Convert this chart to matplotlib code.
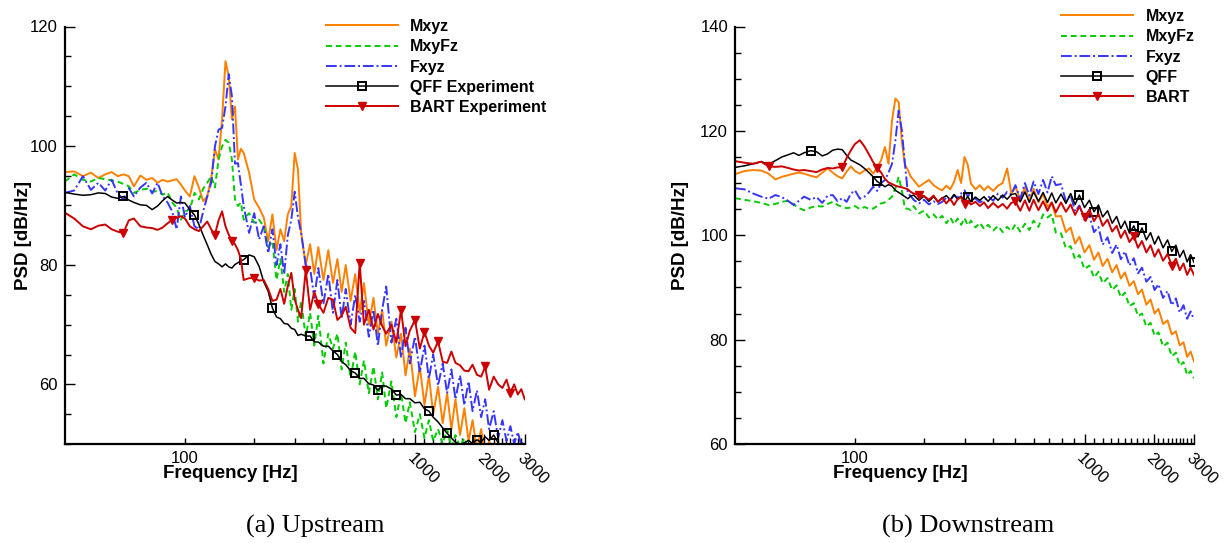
import numpy as np
import matplotlib.pyplot as plt
from matplotlib.ticker import MultipleLocator

plt.rcParams['font.family'] = 'Liberation Sans'

# frequency bins [Hz], shared by both panels
freq = [30, 33, 36, 39, 42, 45, 48, 51, 54, 57,
        60, 64, 68, 72, 76, 80, 84, 88, 92, 96,
        100, 105, 110, 115, 120, 125, 130, 135, 140, 145,
        150, 155, 160, 165, 170, 175, 180, 190, 200, 210,
        220, 230, 240, 250, 260, 270, 280, 290, 300, 310,
        320, 335, 350, 365, 380, 400, 420, 440, 460, 480,
        500, 525, 550, 575, 600, 630, 660, 690, 720, 750,
        790, 830, 870, 910, 950, 1000, 1050, 1100, 1150, 1200,
        1260, 1320, 1380, 1440, 1500, 1570, 1640, 1710, 1780, 1860,
        1940, 2020, 2100, 2200, 2300, 2400, 2500, 2600, 2700, 2800,
        2900, 3000]

# (a) upstream PSD [dB/Hz]
up_mxyz = [95.6, 95.7, 94.9, 95.5, 94.6, 95.2, 95.6, 94.9, 95.2, 94.9,
           93.2, 95.0, 94.3, 94.6, 93.8, 94.3, 94.0, 94.2, 94.4, 93.5,
           92.5, 91.5, 94.9, 93.0, 90.7, 91.5, 94.5, 99.4, 97.7, 104.4,
           114.2, 111.7, 104.4, 106.6, 97.7, 99.5, 98.8, 95.5, 91.0, 89.6,
           88.0, 84.0, 88.5, 82.5, 86.0, 84.0, 88.5, 89.9, 98.8, 96.0,
           85.4, 80.0, 83.5, 78.5, 83.0, 77.5, 82.5, 77.0, 81.0, 75.5,
           80.0, 74.0, 78.5, 72.0, 77.0, 70.0, 74.5, 68.5, 72.5, 66.5,
           70.5, 64.5, 68.5, 61.5, 66.0, 58.0, 63.0, 56.5, 61.5, 55.0,
           59.6, 53.5, 58.5, 52.5, 57.5, 51.5, 56.0, 50.5, 54.0, 49.0,
           52.5, 48.0, 50.5, 47.0, 47.0, 46.0, 46.0, 45.0, 45.0, 44.0,
           44.0, 44.0]
up_mxyfz = [94.0, 95.2, 94.3, 94.0, 94.6, 94.4, 94.2, 94.0, 93.6, 93.2,
            92.1, 92.6, 92.8, 92.3, 92.4, 91.8, 92.2, 90.5, 89.6, 87.6,
            89.0, 89.3, 92.1, 91.0, 92.8, 93.8, 94.9, 93.0, 97.7, 99.9,
            101.0, 100.5, 97.7, 91.0, 89.9, 90.5, 87.6, 88.7, 87.1, 87.6,
            86.5, 83.0, 84.0, 77.5, 81.0, 75.5, 78.5, 72.5, 76.0, 70.5,
            74.0, 68.0, 72.0, 66.5, 71.5, 63.5, 68.5, 66.0, 68.5, 62.5,
            67.0, 61.0, 65.5, 60.0, 64.0, 58.5, 63.0, 57.5, 62.0, 56.0,
            60.5, 54.5, 58.5, 53.5, 57.0, 52.0, 55.0, 51.0, 54.0, 50.5,
            52.5, 50.0, 52.5, 49.5, 51.5, 49.5, 51.0, 49.0, 50.3, 48.5,
            48.0, 47.5, 47.0, 46.5, 46.0, 45.5, 45.0, 44.5, 44.0, 43.5,
            43.0, 42.5]
up_fxyz = [92.1, 92.5, 94.9, 92.6, 93.8, 92.5, 94.3, 92.0, 91.0, 92.9,
           91.5, 93.0, 93.8, 92.0, 93.8, 91.5, 90.5, 89.0, 86.0, 91.5,
           88.0, 89.9, 86.5, 86.0, 89.0, 91.5, 93.8, 99.9, 102.7, 103.0,
           106.6, 112.0, 108.3, 97.0, 97.1, 93.5, 89.9, 85.4, 88.7, 84.3,
           86.5, 82.0, 86.0, 80.0, 83.5, 78.5, 85.0, 87.6, 92.3, 88.0,
           85.4, 80.0, 79.5, 74.5, 79.5, 73.5, 78.5, 72.0, 77.5, 71.0,
           76.0, 70.0, 75.0, 70.5, 74.0, 68.0, 72.5, 66.5, 72.5, 76.4,
           67.0, 71.0, 64.5, 69.5, 63.5, 68.0, 62.0, 66.5, 61.0, 65.0,
           59.8, 63.5, 58.5, 62.5, 57.5, 61.5, 56.5, 60.5, 55.5, 59.0,
           54.5, 57.5, 52.5, 55.5, 51.0, 54.0, 50.5, 53.0, 50.0, 52.0,
           49.8, 50.5]
up_qff = [92.2, 91.9, 91.7, 91.8, 92.1, 92.0, 91.4, 91.2, 91.5, 90.9,
          90.5, 90.1, 90.0, 89.3, 89.9, 90.8, 91.5, 90.9, 90.4, 90.5,
          90.4, 89.3, 88.4, 86.8, 85.0, 83.4, 81.8, 80.6, 80.2, 79.7,
          80.2, 79.7, 79.5, 80.1, 80.4, 80.7, 80.9, 81.7, 81.4, 79.8,
          77.2, 75.6, 72.8, 71.3, 71.0, 70.2, 70.1, 69.4, 69.2, 68.2,
          68.4, 68.1, 68.1, 67.1, 67.1, 66.4, 66.4, 65.6, 65.0, 63.8,
          63.3, 62.3, 61.9, 61.0, 61.0, 60.1, 59.9, 59.0, 59.8, 59.7,
          59.2, 58.2, 58.3, 57.6, 57.6, 56.9, 57.0, 55.9, 55.5, 54.5,
          53.7, 52.7, 51.8, 51.0, 50.3, 49.9, 50.2, 50.6, 50.1, 50.7,
          50.3, 51.2, 50.6, 51.5, 50.2, 49.3, 48.8, 48.5, 48.2, 48.0,
          47.8, 47.5]
up_bart = [88.8, 87.8, 86.5, 86.0, 86.6, 86.8, 86.0, 85.6, 85.4, 87.5,
           87.8, 86.5, 86.3, 86.2, 85.9, 86.3, 87.0, 87.6, 87.9, 88.2,
           87.8, 86.5, 86.0, 85.7, 86.5, 87.3, 86.0, 85.1, 87.5, 89.0,
           86.5, 85.1, 84.0, 83.5, 82.5, 81.0, 77.5, 77.8, 77.8, 77.4,
           77.5, 76.0, 74.0, 74.2, 76.0, 73.5, 76.5, 78.7, 74.2, 72.5,
           71.1, 79.2, 72.5, 75.5, 73.5, 72.0, 74.5, 74.2, 70.8, 71.5,
           73.0, 69.5, 68.6, 80.4, 70.0, 72.5, 69.2, 71.8, 69.8, 68.5,
           70.0, 67.0, 72.5, 66.4, 69.0, 70.8, 66.0, 68.8, 66.5, 65.3,
           67.2, 63.8, 63.6, 65.5, 63.6, 63.2, 62.3, 62.2, 63.3, 61.6,
           61.3, 63.0, 59.1, 61.3, 60.0, 59.4, 60.8, 58.6, 60.0, 58.3,
           59.2, 57.5]

# (b) downstream PSD [dB/Hz]
dn_mxyz = [111.7, 112.3, 112.5, 112.4, 111.8, 110.7, 111.2, 111.5, 111.8, 112.0,
           111.8, 111.4, 111.1, 112.0, 112.8, 112.0, 111.3, 110.9, 112.2, 113.2,
           112.3, 111.8, 112.4, 112.8, 111.8, 113.0, 114.4, 116.9, 113.7, 122.0,
           126.2, 125.5, 118.0, 113.5, 112.5, 111.2, 110.6, 109.3, 110.0, 110.6,
           109.6, 109.0, 108.6, 109.5, 108.8, 110.2, 112.5, 110.0, 115.0, 113.5,
           109.9, 108.8, 109.6, 108.6, 109.4, 108.5, 109.5, 110.0, 112.8, 108.0,
           109.3, 106.8, 109.2, 106.5, 108.9, 106.3, 107.9, 105.5, 106.2, 103.6,
           103.7, 100.6, 101.5, 98.4, 99.7, 96.7, 98.1, 95.3, 96.7, 94.1,
           95.5, 92.9, 94.3, 91.7, 92.9, 90.3, 91.2, 88.7, 89.6, 86.7,
           87.7, 85.0, 85.9, 83.0, 83.7, 81.0, 81.6, 78.9, 79.5, 76.7,
           77.7, 75.8]
dn_mxyfz = [107.1, 106.8, 106.5, 106.2, 105.8, 106.0, 106.4, 106.6, 105.9, 105.2,
            104.8, 105.3, 105.6, 105.5, 106.0, 106.4, 105.8, 105.4, 105.2, 105.3,
            105.6, 105.0, 105.4, 105.1, 105.1, 105.6, 106.1, 106.3, 106.8, 107.4,
            109.0, 111.2, 108.6, 105.1, 105.1, 104.8, 105.6, 104.2, 104.7, 103.4,
            104.0, 103.0, 103.7, 102.3, 103.4, 102.1, 103.2, 102.0, 103.3, 101.9,
            102.8, 101.5, 102.4, 101.2, 102.0, 100.9, 101.8, 100.6, 101.6, 100.8,
            102.1, 100.7, 102.2, 101.0, 102.8, 101.6, 104.0, 103.4, 104.0, 100.5,
            100.4, 97.5, 97.9, 95.4, 96.2, 93.5, 94.2, 91.9, 93.0, 90.8,
            91.8, 89.5, 90.4, 88.1, 89.0, 86.4, 87.0, 84.5, 85.0, 82.5,
            83.2, 80.7, 81.4, 78.7, 79.4, 76.8, 77.5, 75.0, 75.7, 73.2,
            74.0, 72.6]
dn_fxyz = [109.0, 108.8, 108.0, 107.4, 107.0, 107.7, 107.3, 106.6, 105.8, 106.6,
           107.4, 106.8, 107.3, 106.2, 107.6, 107.7, 106.5, 107.1, 106.4, 108.0,
           108.6, 107.0, 107.4, 108.2, 109.3, 108.5, 110.0, 110.6, 112.0, 113.7,
           118.2, 123.9, 120.1, 113.7, 108.0, 107.5, 106.8, 106.1, 106.8, 105.9,
           106.5, 106.0, 106.4, 107.2, 106.6, 107.7, 107.2, 108.0, 108.6, 107.4,
           108.2, 107.0, 106.3, 106.7, 107.5, 106.6, 108.0, 107.2, 108.3, 107.8,
           109.6, 107.0, 110.0, 107.6, 110.3, 107.9, 110.6, 108.2, 111.3, 109.6,
           109.8, 106.5, 107.7, 104.6, 105.7, 102.9, 103.8, 100.6, 101.6, 98.2,
           99.6, 96.6, 98.2, 95.4, 96.9, 94.2, 95.6, 92.7, 93.8, 91.1,
           92.0, 89.5, 90.6, 88.0, 89.3, 86.6, 87.9, 85.2, 86.6, 84.0,
           85.4, 83.8]
dn_qff = [113.0, 113.3, 113.7, 114.1, 113.6, 114.3, 115.0, 115.4, 115.8, 115.3,
          115.8, 116.2, 116.0, 115.2, 115.6, 116.3, 116.5, 116.4, 115.3, 114.4,
          114.0, 113.5, 112.8, 112.0, 111.2, 110.3, 109.8, 109.3, 109.7, 109.4,
          108.6, 108.2, 107.8, 107.4, 107.0, 107.5, 107.7, 106.7, 107.5, 106.5,
          107.4, 106.4, 107.1, 107.6, 106.8, 107.8, 106.9, 107.5, 106.5, 107.4,
          106.4, 107.3, 106.7, 107.4, 106.5, 107.6, 106.7, 107.7, 106.9, 107.8,
          108.0, 106.4, 108.3, 106.3, 108.3, 106.5, 108.2, 106.3, 108.1, 106.2,
          107.9, 106.1, 108.0, 105.9, 107.7, 105.3, 106.7, 104.5, 105.8, 103.5,
          104.7, 102.3, 103.6, 101.3, 102.7, 100.4, 101.8, 99.7, 101.4, 99.1,
          100.5, 98.3, 99.8, 97.6, 99.1, 96.9, 98.1, 95.8, 97.1, 94.9,
          96.3, 94.8]
dn_bart = [114.2, 113.9, 113.7, 114.1, 113.2, 113.1, 113.2, 112.9, 112.6, 112.4,
           112.5, 112.3, 112.1, 112.6, 112.9, 112.8, 113.0, 113.0, 114.8, 116.3,
           117.5, 118.2, 117.0, 115.5, 114.0, 112.9, 112.0, 110.8, 110.1, 109.8,
           109.5, 109.3, 109.2, 109.0, 108.8, 108.3, 108.0, 107.7, 107.5, 106.8,
           107.6, 106.4, 107.2, 106.1, 107.0, 105.8, 106.9, 107.3, 106.0, 106.6,
           105.9, 106.4, 105.6, 106.3, 105.2, 106.2, 105.3, 106.0, 105.1, 106.2,
           106.5, 104.7, 106.7, 104.7, 106.8, 104.8, 106.5, 104.7, 106.3, 104.4,
           106.3, 104.5, 105.9, 103.9, 105.5, 103.5, 104.9, 102.7, 104.1, 101.8,
           103.0, 100.7, 101.8, 99.5, 100.9, 98.7, 99.9, 97.6, 98.9, 96.7,
           98.1, 95.9, 97.3, 95.1, 96.4, 94.2, 95.5, 93.3, 94.6, 92.4,
           93.8, 92.4]

# which bins carry a symbol
up_qff_marks = [8, 22, 36, 42, 52, 58, 62, 67, 71, 78, 82, 89, 93]
up_bart_marks = [8, 17, 27, 32, 38, 51, 54, 63, 72, 75, 77, 80, 91, 97]
dn_qff_marks = [11, 25, 49, 74, 77, 86, 88, 95, 101]
dn_bart_marks = [4, 17, 25, 37, 48, 60, 75, 86, 95]

fig = plt.figure(figsize=(12.3, 5.43), dpi=100)
W, H = 1230.0, 543.0


def panel(rect, curves, qmarks, bmarks, ylim, yticks, exp_names, legpos, ylab_x):
    ax = fig.add_axes(rect)
    f = np.array(freq)
    ax.plot(f, curves[0], color='#ff8000', lw=1.4, label='Mxyz')
    ax.plot(f, curves[1], color='#00cc00', lw=1.4, ls=(0, (3, 2)), label='MxyFz')
    ax.plot(f, curves[2], color='#3535ff', lw=1.4, ls=(0, (5.5, 1.5, 1, 1.5)), label='Fxyz')
    ax.plot(f, curves[3], color='k', lw=1.1, marker='s', markevery=qmarks, ms=5.5,
            mfc='none', mec='k', mew=1.4, label=exp_names[0])
    ax.plot(f, curves[4], color='#cc0000', lw=1.4, marker='v', markevery=bmarks, ms=6,
            label=exp_names[1])

    ax.set_xscale('log')
    ax.set_xlim(30, 3000)
    ax.set_ylim(*ylim)
    for s in ['top', 'right']:
        ax.spines[s].set_visible(False)
    for s in ['left', 'bottom']:
        ax.spines[s].set_linewidth(1.6)

    ax.set_xticks([1000, 2000, 3000], labels=['1000', '2000', '3000'])
    minors = [100, 200, 300, 400, 500, 600, 700, 800, 900,
              1100, 1200, 1300, 1400, 1500, 1600, 1700, 1800, 1900,
              2100, 2200, 2300, 2400, 2500, 2600, 2700, 2800, 2900]
    ax.set_xticks(minors, labels=['100'] + [''] * (len(minors) - 1), minor=True)
    for lab in ax.get_xticklabels():
        lab.set_rotation(-45)
        lab.set_ha('left')
        lab.set_va('top')
        lab.set_rotation_mode('anchor')
    ax.set_yticks(yticks)
    ax.yaxis.set_minor_locator(MultipleLocator(5))
    ax.tick_params(which='both', direction='in', labelsize=12, width=1.0,
                   top=False, right=False)
    ax.tick_params(which='major', length=7.5, pad=5)
    ax.tick_params(which='minor', length=4, pad=5)

    ax.set_xlabel('Frequency [Hz]', fontsize=13.5, fontweight='bold')
    ax.xaxis.set_label_coords(0.36, -0.05)
    ax.set_ylabel('PSD [dB/Hz]', fontsize=13.5, fontweight='bold')
    ax.yaxis.set_label_coords(ylab_x, 0.5)

    ax.legend(loc='upper left', bbox_to_anchor=legpos, bbox_transform=fig.transFigure,
              frameon=False, borderpad=0, borderaxespad=0, handlelength=4.5,
              handletextpad=0.8, labelspacing=0.33, numpoints=1,
              prop={'weight': 'bold', 'size': 11.5})
    return ax


bottom = 1 - 444 / H
height = (444 - 26.5) / H
panel([64.7 / W, bottom, 460 / W, height],
      [up_mxyz, up_mxyfz, up_fxyz, up_qff, up_bart],
      up_qff_marks, up_bart_marks, (50, 120), [60, 80, 100, 120],
      ['QFF Experiment', 'BART Experiment'], (325.7 / W, 1 - 19 / H), -0.07)
panel([735 / W, bottom, 459 / W, height],
      [dn_mxyz, dn_mxyfz, dn_fxyz, dn_qff, dn_bart],
      dn_qff_marks, dn_bart_marks, (60, 140), [60, 80, 100, 120, 140],
      ['QFF', 'BART'], (1061 / W, 1 - 9 / H), -0.1)

fig.text(315 / W, 1 - 533 / H, '(a) Upstream', family='Liberation Serif',
         fontsize=19, ha='center', va='baseline')
fig.text(968 / W, 1 - 533 / H, '(b) Downstream', family='Liberation Serif',
         fontsize=19, ha='center', va='baseline')

fig.savefig('out.png', dpi=100)
